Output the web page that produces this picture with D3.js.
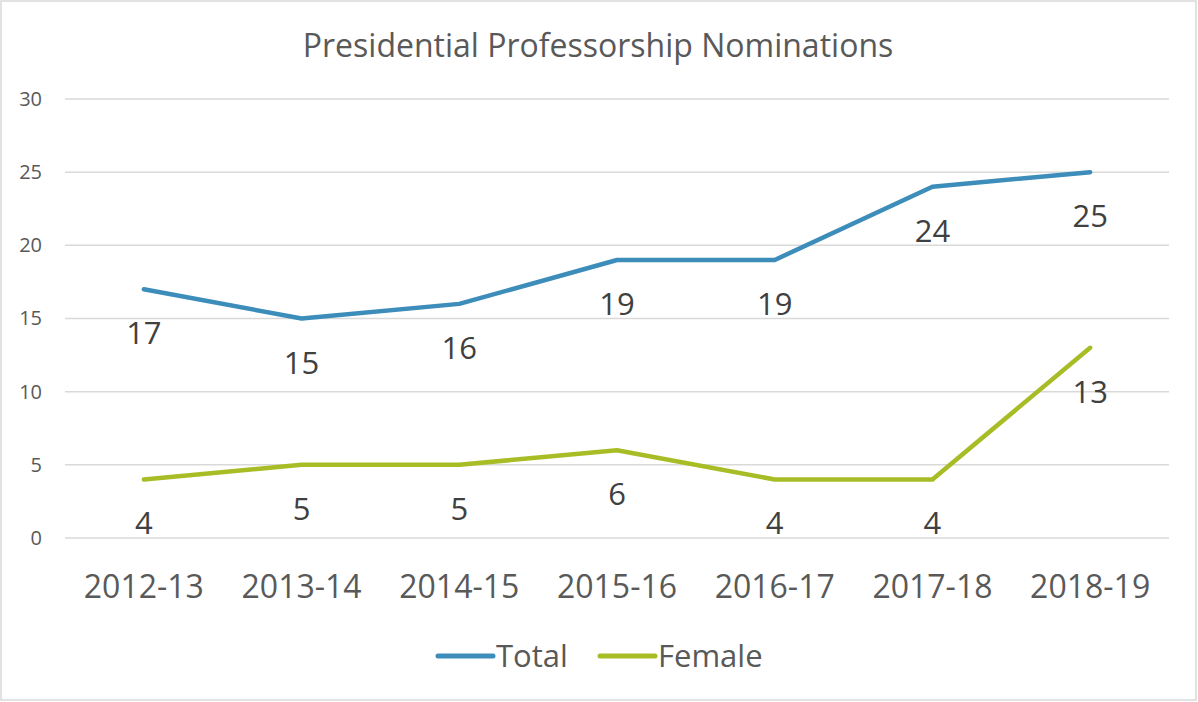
<!DOCTYPE html>
<html>
<head>
<meta charset="utf-8">
<script src="https://cdn.jsdelivr.net/npm/d3@7"></script>
<style>
  body { margin: 0; background: #fff; }
  text { font-family: "Open Sans", "Liberation Sans", sans-serif; }
</style>
</head>
<body>
<script>
// chart data
var years = ["2012-13", "2013-14", "2014-15", "2015-16", "2016-17", "2017-18", "2018-19"];
var total = [17, 15, 16, 19, 19, 24, 25];
var female = [4, 5, 5, 6, 4, 4, 13];
var yTicks = [0, 5, 10, 15, 20, 25, 30];
var seriesNames = ["Total", "Female"];
var colors = ["#3c8dba", "#a8bd25"];

var W = 1198, H = 702;
var svg = d3.select("body").append("svg")
    .attr("width", W)
    .attr("height", H);

// outer chart border
svg.append("rect")
    .attr("x", 1).attr("y", 1)
    .attr("width", W - 3).attr("height", H - 3)
    .attr("fill", "#fff")
    .attr("stroke", "#d9d9d9")
    .attr("stroke-width", 1.5);

// set the ranges
var x = d3.scaleBand()
    .domain(years)
    .range([65, 1169]);
var y = d3.scaleLinear()
    .domain([0, 30])
    .range([538, 99]);

// gridlines
svg.append("g").selectAll("line")
    .data(yTicks)
  .enter().append("line")
    .attr("x1", 65).attr("x2", 1169)
    .attr("y1", function(d) { return y(d); })
    .attr("y2", function(d) { return y(d); })
    .attr("stroke", "#d9d9d9")
    .attr("stroke-width", 1.5);

// y axis labels
var yAxis = svg.append("g")
    .attr("transform", "translate(42,0)")
    .call(d3.axisLeft(y).tickValues(yTicks).tickSize(0).tickPadding(0));
yAxis.select(".domain").remove();
yAxis.selectAll("text")
    .attr("font-size", 20)
    .attr("fill", "#595959")
    .style("font-family", "'Open Sans', sans-serif");

// x axis labels
var xAxis = svg.append("g")
    .attr("transform", "translate(0,575)")
    .call(d3.axisBottom(x).tickSize(0).tickPadding(0));
xAxis.select(".domain").remove();
xAxis.selectAll("text")
    .attr("font-size", 32)
    .attr("fill", "#595959")
    .style("font-family", "'Open Sans', sans-serif");

// title
svg.append("text")
    .attr("x", 598).attr("y", 57)
    .attr("text-anchor", "middle")
    .attr("font-size", 32)
    .attr("fill", "#595959")
    .text("Presidential Professorship Nominations");

var line = d3.line()
    .x(function(d, i) { return x(years[i]) + x.bandwidth() / 2; })
    .y(function(d) { return y(d); });

[total, female].forEach(function(values, s) {
  svg.append("path")
      .datum(values)
      .attr("fill", "none")
      .attr("stroke", colors[s])
      .attr("stroke-width", 4.5)
      .attr("stroke-linecap", "round")
      .attr("stroke-linejoin", "round")
      .attr("d", line);

  // data labels below points
  svg.append("g").selectAll("text")
      .data(values)
    .enter().append("text")
      .attr("x", function(d, i) { return x(years[i]) + x.bandwidth() / 2; })
      .attr("y", function(d) { return y(d) + 55; })
      .attr("text-anchor", "middle")
      .attr("font-size", 31)
      .attr("fill", "#404040")
      .text(function(d) { return d; });
});

// legend
var legend = svg.append("g");
var legendX = [438, 600];
seriesNames.forEach(function(name, i) {
  var g = legend.append("g").attr("transform", "translate(" + legendX[i] + ",656)");
  g.append("line")
      .attr("x1", 0).attr("x2", 55)
      .attr("stroke", colors[i])
      .attr("stroke-width", 5)
      .attr("stroke-linecap", "round");
  g.append("text")
      .attr("x", 58).attr("y", 11)
      .attr("font-size", 31)
      .attr("fill", "#595959")
      .text(name);
});
</script>
</body>
</html>
